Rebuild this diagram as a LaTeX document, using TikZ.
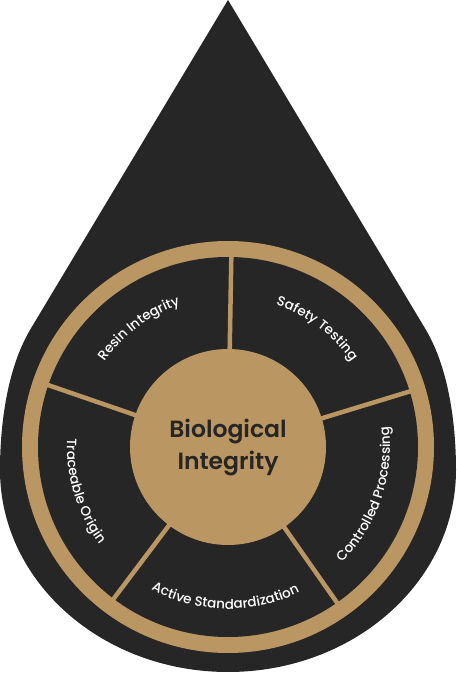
\documentclass[tikz,border=0pt]{standalone}
\definecolor{dropdark}{RGB}{38,38,38}
\definecolor{ringgold}{RGB}{186,150,98}
\usepackage{fontspec}
\setmainfont{Poppins}
\newfontfamily\biofont{Poppins SemiBold}
\newfontfamily\segfont{Poppins Medium}
\usepackage{tikz}
\usetikzlibrary{decorations.text}
\tikzset{
  divider/.style={ringgold, line width=4.5pt},
  seglabel/.style={decorate, decoration={text along path, text align=center, text color=white, text={|\segfont\fontsize{13.5}{15}\selectfont|#1}}}
}

\begin{document}
\begin{tikzpicture}[x=1pt,y=1pt]
\useasboundingbox (0,0) rectangle (456,678);
\coordinate (c) at (228,231);
\fill[dropdark] (228,678) -- (30,348) .. controls (7,309) and (0,253) .. (0,208)
  arc[start angle=180, end angle=360, x radius=228, y radius=202]
  .. controls (456,253) and (449,309) .. (426,348) -- cycle;
\fill[ringgold] (c) circle[radius=206];
\fill[dropdark] (c) circle[radius=190];
\foreach \a in {89,17,-55,-127,161} {
  \draw[divider] (c) ++(\a:96) -- ++(\a:96);
}
\node[circle, fill=ringgold, minimum size=196pt, inner sep=0pt, align=center,
  text=dropdark, font=\biofont\fontsize{23.5}{32}\selectfont] (bio) at (c) {Biological\\Integrity};
\path[seglabel={Resin Integrity}] (c) ++(154:150) arc[start angle=154, end angle=100, radius=150];
\path[seglabel={Safety Testing}] (c) ++(80:150) arc[start angle=80, end angle=26, radius=150];
\path[seglabel={Controlled Processing}] (c) ++(-52:162) arc[start angle=-52, end angle=14, radius=162];
\path[seglabel={Active Standardization}] (c) ++(-127:162) arc[start angle=-127, end angle=-55, radius=162];
\path[seglabel={Traceable Origin}] (c) ++(164:161) arc[start angle=164, end angle=230, radius=161];
\end{tikzpicture}
\end{document}
